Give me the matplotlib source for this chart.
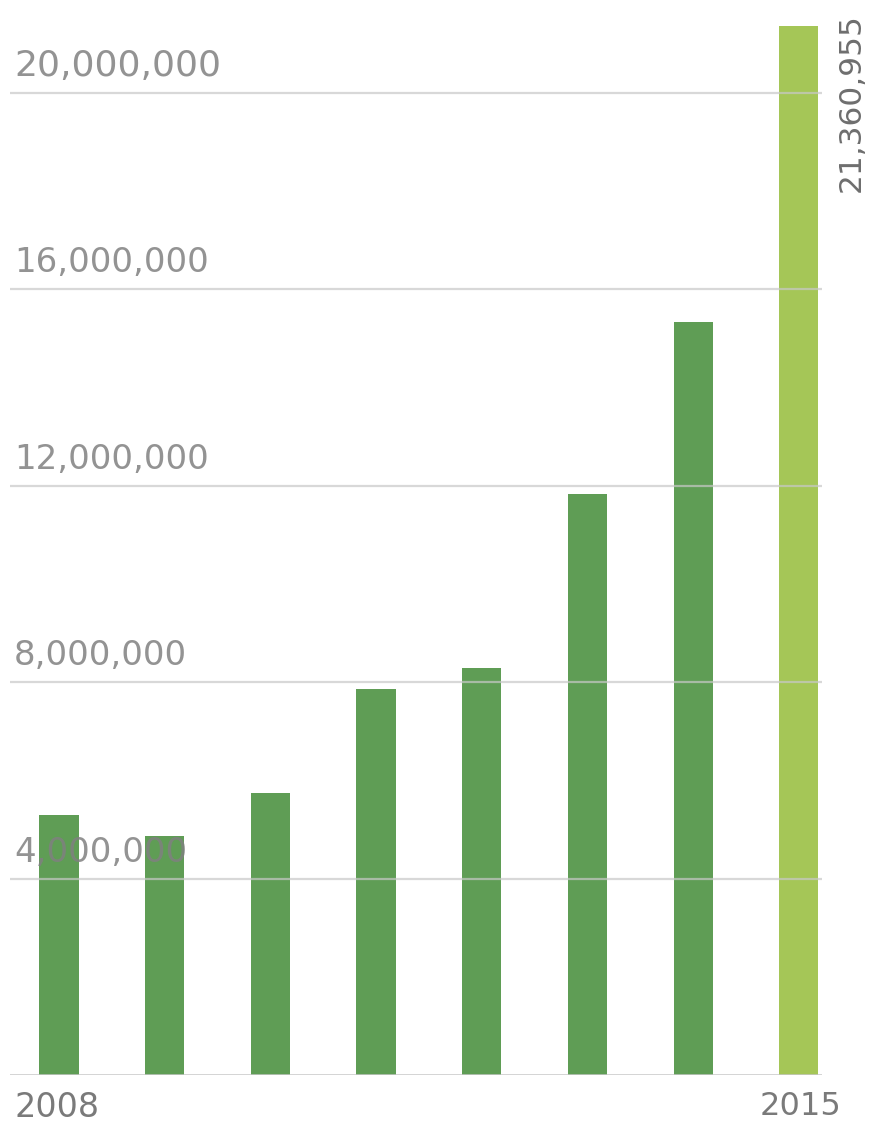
import matplotlib.pyplot as plt

# ============================================
# Data
# ============================================

years = [2008, 2009, 2010, 2011, 2012, 2013, 2014, 2015]
values = [5300000, 4870000, 5740000, 7860000, 8290000, 11830000, 15320000, 21360955]
tick_values = [4000000, 8000000, 12000000, 16000000, 20000000]
tick_labels = ["4,000,000", "8,000,000", "12,000,000", "16,000,000", "20,000,000"]
end_labels = ["2008", "2015"]
total_label = "21,360,955"

# ============================================
# Figure
# ============================================

fig = plt.figure(figsize=(8.75, 11.29), dpi=100)
ax = fig.add_axes([0.0114, 0.0478, 0.928, 0.9398])

positions = list(range(len(years)))
colors = ["#5f9d55"] * (len(years) - 1) + ["#a5c657"]

ax.bar(positions, values, width=0.37, color=colors, zorder=2)

ax.set_xlim(-0.464, 7.22)
ax.set_ylim(0, 21600000)

# gridlines drawn over the bars
for v in tick_values:
    ax.axhline(v, color="#c8c8c8", lw=1.6, alpha=0.7, zorder=3)
ax.axhline(0, color="#c8c8c8", lw=1.8, zorder=3)

# value labels sitting just above each gridline
for v, lab in zip(tick_values, tick_labels):
    size = 26 if v == tick_values[-1] else 24.5
    ax.text(0.005, v + 200000, lab, transform=ax.get_yaxis_transform(),
            ha="left", va="bottom", fontsize=size, color="#808080",
            alpha=0.85, family="DejaVu Sans", zorder=4)

# first and last year under the baseline
ax.text(-0.425, -320000, end_labels[0], ha="left", va="top",
        fontsize=24, color="#7a7a7a", family="DejaVu Sans")
ax.text(positions[-1] + 0.02, -320000, end_labels[1], ha="center", va="top",
        fontsize=23, color="#7a7a7a", family="DejaVu Sans", clip_on=False)

# total for the last year, rotated beside its bar
ax.text(positions[-1] + 0.5, values[-1] + 250000, total_label,
        rotation=90, ha="center", va="top", fontsize=22.5, color="#6e6e6e",
        family="DejaVu Sans", clip_on=False)

ax.axis("off")

fig.savefig("out.png", dpi=100, facecolor="white")
plt.close(fig)
